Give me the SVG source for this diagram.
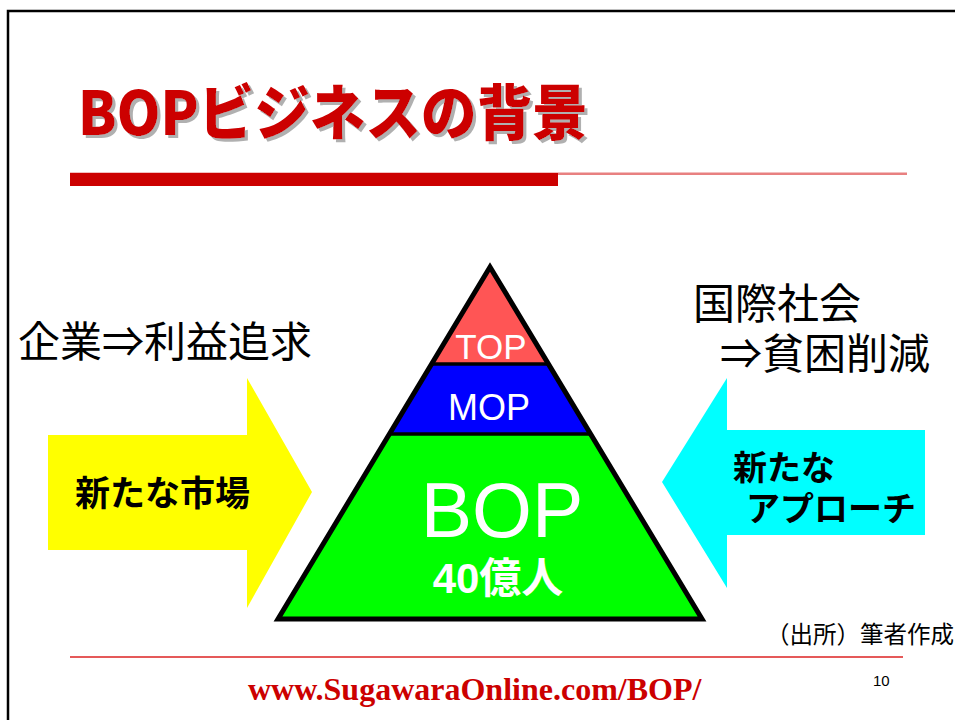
<svg xmlns="http://www.w3.org/2000/svg" width="955" height="720" viewBox="0 0 955 720">
<style>
.jp{font-family:"Noto Sans CJK JP","Noto Sans CJK SC",sans-serif}
.ar{font-family:"Liberation Sans",Arial,sans-serif}
.blk{fill:#000}
.wht{fill:#fff}
.bold{font-weight:700}
</style>
<defs>
  <filter id="shadow" x="-5%" y="-20%" width="110%" height="140%">
    <feOffset in="SourceAlpha" dx="3" dy="3" result="off"/>
    <feFlood flood-color="#b0b0b0"/>
    <feComposite in2="off" operator="in" result="sh"/>
    <feMerge><feMergeNode in="sh"/><feMergeNode in="SourceGraphic"/></feMerge>
  </filter>
</defs>
<rect width="955" height="720" fill="#fff"/>
<rect x="8" y="11" width="960" height="720" fill="none" stroke="#000" stroke-width="2.5"/>
<g id="title">
  <text x="78" y="135" class="jp" font-weight="900" font-size="60" fill="#cc0000" filter="url(#shadow)" textLength="510" lengthAdjust="spacingAndGlyphs">BOPビジネスの背景</text>
  <rect x="70" y="172.5" width="837" height="2.5" fill="#e88080"/>
  <rect x="70" y="173" width="488" height="13" fill="#cc0000"/>
</g>
<g id="pyramid">
  <polygon points="490,267 431.6,364 548.4,364" fill="#ff5555"/>
  <polygon points="431.6,364 548.4,364 590.5,434 389.5,434" fill="#0000ff"/>
  <polygon points="389.5,434 590.5,434 702,619 278,619" fill="#00ff00"/>
  <line x1="431.6" y1="364" x2="548.4" y2="364" stroke="#000" stroke-width="3.5"/>
  <line x1="389.5" y1="434" x2="590.5" y2="434" stroke="#000" stroke-width="3.5"/>
  <polygon points="490,267 702,619 278,619" fill="none" stroke="#000" stroke-width="5" stroke-linejoin="miter"/>
  <text x="491" y="359" class="ar wht" font-size="35" text-anchor="middle">TOP</text>
  <text x="489" y="420" class="ar wht" font-size="36" text-anchor="middle">MOP</text>
  <text x="502" y="537" class="ar wht" font-size="77" text-anchor="middle">BOP</text>
  <text x="498" y="593" class="jp wht bold" font-size="42" text-anchor="middle"><tspan class="ar">40</tspan>億人</text>
</g>
<g id="left-label">
  <text x="18" y="357" class="jp blk" font-size="42">企業⇒利益追求</text>
</g>
<g id="left-arrow">
  <polygon points="48,435 247,435 247,378 312,492 247,608 247,550 48,550" fill="#ffff00"/>
  <text x="75" y="506" class="jp blk bold" font-size="35">新たな市場</text>
</g>
<g id="right-label">
  <text x="693" y="319" class="jp blk" font-size="42">国際社会</text>
  <text x="720" y="369" class="jp blk" font-size="42">⇒貧困削減</text>
</g>
<g id="right-arrow">
  <polygon points="925,430 727,430 727,378 662,482 727,588 727,535 925,535" fill="#00ffff"/>
  <text x="733" y="480" class="jp blk bold" font-size="34">新たな</text>
  <text x="746" y="521" class="jp blk bold" font-size="34">アプローチ</text>
</g>
<g id="source">
  <text x="766" y="643" class="jp blk" font-size="24" textLength="188" lengthAdjust="spacingAndGlyphs">（出所）筆者作成</text>
</g>
<g id="footer">
  <line x1="70" y1="657" x2="903" y2="657" stroke="#dd2222" stroke-width="1.5"/>
  <text x="248" y="700" font-family="'Liberation Serif','Times New Roman',serif" font-weight="700" font-size="32" fill="#cc0000">www.SugawaraOnline.com/BOP/</text>
  <text x="873" y="686" class="ar blk" font-size="15">10</text>
</g>
<g id="connectors"/>
</svg>
